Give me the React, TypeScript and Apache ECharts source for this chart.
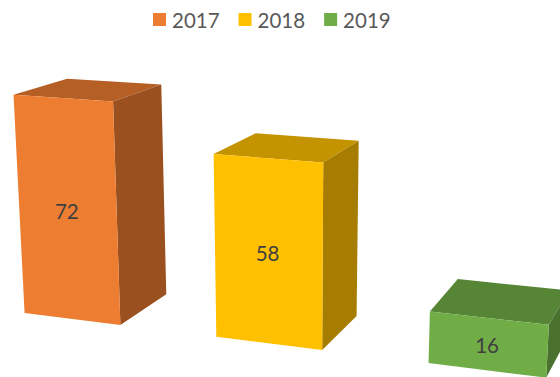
import React, { useEffect, useRef } from "react";
import * as echarts from "echarts";

const categories = ["2017", "2018", "2019"];
const values = [72, 58, 16];
const frontColors = ["#ED7D31", "#FFC000", "#70AD47"];
const topColors = ["#B65F25", "#C49300", "#568536"];
const sideColors = ["#9B511F", "#A67D00", "#4A722E"];

// Perspective camera of the 3D column chart: world (band, value / 50, depth) to screen.
const camera = [1.835325, -0.081547, 0.567353, 0.718796, 0.075346, -1.560929, -0.101883, 3.18927, -0.048956, -0.027844, 0.06864];
const halfWidth = 0.256;

function project(X: number, Y: number, Z: number) {
  const p = camera;
  const d = p[8] * X + p[9] * Y + p[10] * Z + 1;
  return [(100 * (p[0] * X + p[1] * Y + p[2] * Z + p[3])) / d, (100 * (p[4] * X + p[5] * Y + p[6] * Z + p[7])) / d];
}

export default function App() {
  const ref = useRef<HTMLDivElement>(null);
  useEffect(() => {
    const chart = echarts.init(ref.current!, undefined, { renderer: "svg" });
    const renderItem = (_params: any, api: any) => {
      const i = api.value(0);
      const v = api.value(1);
      const band = api.size([1, 0])[0];
      const base = api.coord([i, 0]);
      const top = api.coord([i, v]);
      const unit = api.size([0, 1])[1];
      const cx = base[0] / band - 0.5;
      const h = (base[1] - top[1]) / unit / 50;
      const P = (s: number, y: number, z: number) => project(cx + s * halfWidth, y, z);
      const face = (pts: number[][], fill: string) => ({ type: "polygon", shape: { points: pts }, style: { fill } });
      const c = P(0, h / 2, 0);
      return {
        type: "group",
        children: [
          face([P(-1, h, 0), P(1, h, 0), P(1, h, 1), P(-1, h, 1)], topColors[i]),
          face([P(1, 0, 0), P(1, h, 0), P(1, h, 1), P(1, 0, 1)], sideColors[i]),
          face([P(-1, 0, 0), P(1, 0, 0), P(1, h, 0), P(-1, h, 0)], frontColors[i]),
          {
            type: "text",
            style: { text: String(v), x: c[0] - 0.5, y: c[1] + 0.5, align: "center", verticalAlign: "middle", fontFamily: "Lato", fontSize: 20.5, fill: "#404040" },
          },
        ],
      };
    };
    chart.setOption({
      animation: false,
      legend: {
        left: 148,
        top: 4,
        icon: "rect",
        itemWidth: 13,
        itemHeight: 13,
        itemGap: 19,
        textStyle: { fontFamily: "Lato", fontSize: 20.5, color: "#595959", padding: [0, 0, 0, 1] },
        data: categories,
      },
      grid: { left: 0, right: 0, top: 0, bottom: 0 },
      xAxis: { type: "category", data: categories, show: false },
      yAxis: { type: "value", min: 0, max: 100, show: false },
      series: categories.map((name, k) => ({
        type: "custom",
        name,
        clip: false,
        itemStyle: { color: frontColors[k] },
        renderItem,
        data: [[k, values[k]]],
      })),
    });
    return () => chart.dispose();
  }, []);
  return <div ref={ref} style={{ position: "absolute", left: 0, top: 0, width: 560, height: 377 }} />;
}
